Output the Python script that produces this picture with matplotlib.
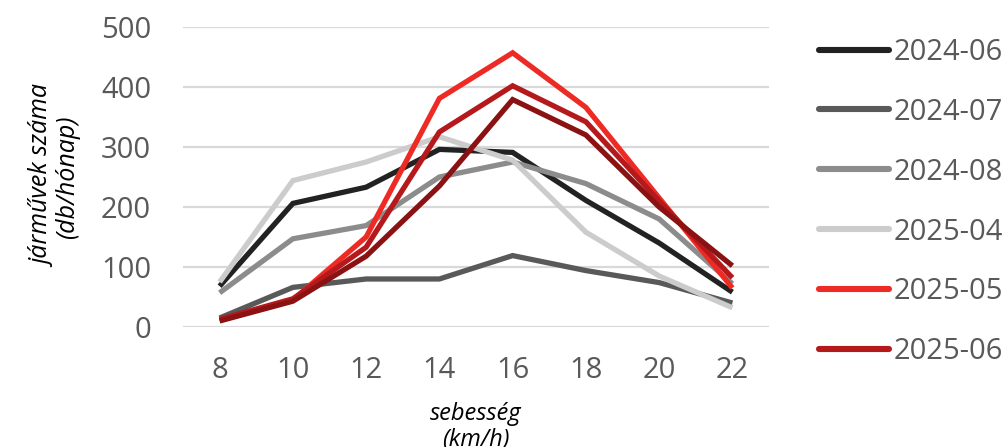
import numpy as np
import matplotlib.pyplot as plt

plt.rcParams['font.family'] = ['Open Sans', 'DejaVu Sans']

speeds = ['8', '10', '12', '14', '16', '18', '20', '22']

s_2024_06 = [68, 206, 233, 296, 291, 211, 140, 58]
s_2024_07 = [15, 66, 80, 80, 119, 94, 74, 40]
s_2024_08 = [57, 147, 169, 250, 275, 239, 180, 72]
s_2025_04 = [75, 244, 275, 317, 278, 158, 85, 32]
s_2025_05 = [11, 45, 150, 381, 457, 366, 215, 65]
s_2025_06 = [13, 47, 133, 325, 402, 342, 210, 82]
s_2025_07 = [10, 43, 118, 235, 379, 320, 200, 102]

series = [s_2024_06, s_2024_07, s_2024_08, s_2025_04, s_2025_05, s_2025_06, s_2025_07]
labels = ['2024-06', '2024-07', '2024-08', '2025-04', '2025-05', '2025-06', '2025-07']
colors = ['#222222', '#595959', '#8c8c8c', '#cccccc', '#ee2a24', '#b5191b', '#8b1212']

fig = plt.figure(figsize=(10.05, 4.47), dpi=100)
ax = fig.add_axes([0.1821, 0.2685, 0.5831, 0.6711])

x = np.arange(len(speeds))
lines = []
for vals, lab, col in zip(series, labels, colors):
    ln, = ax.plot(x, vals, color=col, linewidth=3.8, label=lab,
                  solid_joinstyle='miter', solid_capstyle='butt')
    lines.append(ln)

ax.set_xlim(-0.5, len(speeds) - 0.5)
ax.set_ylim(0, 500)
ax.set_yticks([0, 100, 200, 300, 400, 500])
ax.set_xticks(x)
ax.set_xticklabels(speeds)
ax.yaxis.grid(True, color='#d9d9d9', linewidth=1.6)
ax.set_axisbelow(True)
for sp in ax.spines.values():
    sp.set_visible(False)
ax.tick_params(axis='both', length=0, labelsize=21, labelcolor='#595959')
ax.tick_params(axis='y', pad=23)
ax.tick_params(axis='x', pad=21)

ax.set_ylabel('járművek száma\n(db/hónap)', fontsize=18, fontstyle='italic',
              color='#000000', labelpad=15, linespacing=0.95)
ax.set_xlabel('sebesség\n(km/h)', fontsize=17, fontstyle='italic',
              color='#000000', labelpad=12, linespacing=1.1)

leg = ax.legend(handles=lines[:6], loc='center left', bbox_to_anchor=(0.815, 0.548),
                bbox_transform=fig.transFigure, frameon=False, fontsize=21,
                handlelength=2.4, handletextpad=0.15, labelspacing=1.06,
                borderpad=0, borderaxespad=0)
for t in leg.get_texts():
    t.set_color('#595959')
for h in leg.get_lines():
    h.set_linewidth(4.4)
    h.set_solid_capstyle('round')

fig.savefig('out.png', dpi=100)
